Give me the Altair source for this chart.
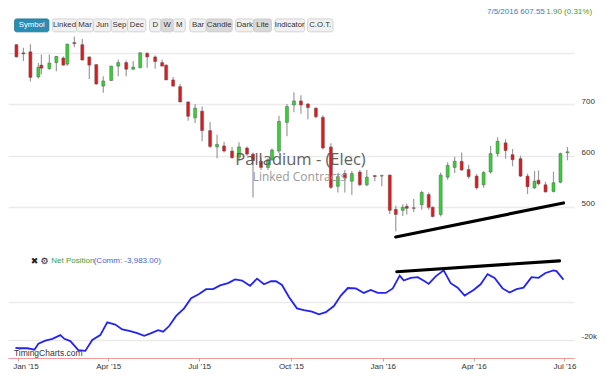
import altair as alt
import numpy as np
import pandas as pd

# ---------------- data ----------------
BASE_DATE = "2015-01-01"   # day offsets below are counted from this date

candle_day = [-2, 5, 12, 20, 23, 31, 38, 45, 49, 56,
              64, 71, 78, 85, 93, 100, 108, 115, 122, 129,
              137, 144, 148, 155, 162, 170, 177, 184, 192, 199,
              206, 214, 221, 229, 235, 243, 250, 254, 261, 269,
              276, 283, 290, 298, 305, 313, 320, 327, 334, 342,
              349, 357, 364, 372, 378, 385, 389, 396, 404, 411,
              415, 423, 430, 437, 444, 451, 459, 466, 473, 480,
              488, 495, 503, 510, 517, 521, 528, 536, 543, 550]
candle_open = [817, 801, 803, 754, 777, 770, 782, 791, 779, 821,
               817, 793, 778, 736, 747, 775, 782, 769, 772, 800,
               793, 782, 777, 748, 735, 705, 674, 687, 649, 617,
               619, 609, 597, 615, 603, 589, 577, 592, 609, 665,
               699, 707, 701, 693, 675, 617, 540, 565, 550, 568,
               543, 561, 560, 562, 495, 493, 501, 498, 504, 524,
               499, 485, 558, 577, 589, 573, 560, 543, 568, 604,
               625, 602, 594, 560, 537, 552, 543, 530, 548, 605.65]
candle_high = [818, 811, 818, 781, 798, 798, 795, 794, 819, 833,
               828, 794, 779, 755, 776, 788, 786, 785, 802, 802,
               796, 788, 778, 754, 740, 706, 701, 696, 666, 641,
               627, 617, 626, 618, 606, 596, 595, 614, 678, 701,
               724, 718, 703, 694, 679, 624, 565, 572, 570, 572,
               572, 562, 563, 563, 502, 505, 506, 515, 531, 528,
               501, 567, 587, 598, 606, 582, 564, 570, 619, 636,
               632, 613, 600, 565, 570, 571, 549, 569, 606, 617]
candle_low = [792, 785, 745, 751, 759, 768, 765, 776, 776, 812,
              786, 750, 739, 723, 746, 755, 755, 768, 771, 772,
              770, 775, 748, 735, 704, 668, 664, 628, 615, 595,
              606, 594, 589, 600, 518, 572, 572, 590, 605, 638,
              685, 682, 671, 673, 612, 535, 528, 528, 523, 540,
              540, 550, 540, 486, 452, 482, 485, 490, 494, 494,
              479, 481, 553, 566, 570, 555, 534, 537, 565, 598,
              594, 579, 558, 525, 535, 542, 528, 528, 546, 591]
candle_close = [793, 799, 753, 773, 771, 781, 794, 777, 818, 819,
                787, 777, 740, 746, 775, 782, 769, 773, 801, 793,
                784, 775, 748, 736, 705, 677, 693, 649, 618, 622,
                609, 596, 617, 603, 590, 577, 592, 611, 667, 696,
                707, 699, 694, 676, 615, 538, 559, 556, 565, 543,
                558, 559, 561, 493, 485, 499, 497, 497, 528, 499,
                481, 562, 581, 589, 572, 559, 537, 567, 604, 628,
                610, 592, 560, 539, 550, 545, 529, 547, 604, 607.55]

net_day = [-3, 1, 9, 16, 20, 27, 34, 42, 46, 52,
           60, 67, 74, 82, 89, 97, 104, 111, 119, 126,
           133, 140, 145, 151, 158, 166, 173, 181, 188, 195,
           202, 210, 217, 224, 232, 239, 246, 253, 258, 264,
           271, 279, 286, 294, 301, 308, 316, 323, 330, 338,
           346, 353, 360, 368, 375, 382, 386, 393, 400, 407,
           411, 418, 426, 433, 440, 447, 456, 463, 470, 477,
           485, 492, 499, 506, 514, 521, 528, 536, 539, 546]
net_position_k = [-22.1, -22.2, -22.2, -22.6, -21.0, -20.2, -19.7, -18.7, -19.7, -20.3,
                  -22.7, -22.9, -20.0, -18.7, -15.3, -15.9, -17.2, -17.6, -18.2, -18.9,
                  -18.2, -17.4, -17.8, -16.3, -13.6, -11.6, -8.9, -7.8, -6.5, -6.5,
                  -5.5, -4.9, -3.9, -4.2, -5.6, -3.7, -5.2, -4.4, -4.4, -5.4,
                  -8.6, -11.6, -12.1, -12.5, -13.2, -12.6, -11.0, -8.2, -6.2, -6.3,
                  -7.5, -6.7, -7.5, -7.5, -6.3, -2.9, -4.2, -3.5, -3.3, -4.4,
                  -5.1, -3.1, -1.5, -4.9, -6.1, -8.2, -6.7, -5.2, -2.5, -3.5,
                  -6.3, -7.4, -6.5, -6.1, -3.3, -3.5, -2.2, -1.5, -1.7, -3.983]

price_trend_day = [378, 546]
price_trend = [441, 507.5]
net_trend_day = [379, 542]
net_trend_k = [-1.87, 1.03]

price_axis_values = [500, 600, 700, 800]
net_axis_values = [-20, -10]
x_axis_months = [(2015, 1), (2015, 4), (2015, 7), (2015, 10), (2016, 1), (2016, 4), (2016, 7)]

title_text = "Palladium - (Elec)"
subtitle_text = "Linked Contracts"
legend_name = "Net Position"
legend_value = "(Comm: -3,983.00)"
quote_main = "7/5/2016 607.55"
quote_change = "1.90 (0.31%)"
brand_text = "TimingCharts.com"
buttons = ["Symbol", "Linked", "Mar", "Jun", "Sep", "Dec", "D", "W", "M",
           "Bar", "Candle", "Dark", "Lite", "Indicator", "C.O.T."]
selected_buttons = ["W", "Candle", "Lite"]

# ---------------- layout (pixels of the reference -> chart pixels) ----------------
def X(ref):
    return (ref - 6) * 0.985


def Y(ref):
    return (ref - 2) * 0.965


button_edges = [(12.7, 47.5), (51, 75.7), (75.7, 92.7), (92.7, 110.8), (110.8, 127.4),
                (127.4, 146), (149.8, 161.4), (161.4, 173.7), (173.7, 186),
                (190.7, 207.3), (207.3, 233.6), (237, 255.6), (255.6, 273.4),
                (277, 307), (310, 336)]

FONT = "Liberation Sans"
GREEN = "#2fd62f"
RED = "#e3171c"
W, H = 566, 350

base = pd.Timestamp(BASE_DATE)
candles = pd.DataFrame({
    "date": base + pd.to_timedelta(candle_day, unit="D"),
    "open": candle_open, "high": candle_high, "low": candle_low, "close": candle_close,
})
candles["dir"] = np.where(candles["close"] >= candles["open"], "up", "down")

net = pd.DataFrame({"date": base + pd.to_timedelta(net_day, unit="D"), "net": net_position_k})
ptrend = pd.DataFrame({"date": base + pd.to_timedelta(price_trend_day, unit="D"), "v": price_trend})
ntrend = pd.DataFrame({"date": base + pd.to_timedelta(net_trend_day, unit="D"), "v": net_trend_k})
one = pd.DataFrame({"k": [0]})

x_scale = alt.Scale(domain=[alt.DateTime(year=2014, month=12, date=26, hours=13, minutes=40),
                            alt.DateTime(year=2016, month=7, date=5, hours=13, minutes=12)],
                    nice=False)
price_scale = alt.Scale(domain=[450, 800], range=[Y(49 + 350 * 0.53), Y(49)], zero=False, nice=False)
net_scale = alt.Scale(domain=[-20, 0], range=[Y(346), Y(268)], zero=False, nice=False)

x_axis = alt.Axis(values=[alt.DateTime(year=y, month=m, date=1) for y, m in x_axis_months],
                  format="%b '%y", title=None, grid=False, labelAngle=0,
                  labelFont=FONT, labelFontSize=8, labelColor="#333",
                  domainColor="#f29a9a", domainWidth=1, tickColor="#aaa", tickSize=3,
                  labelPadding=1,
                  labelOffset={"condition": {"test": "datum.index == 0", "value": 7}, "value": 0})
price_axis = alt.Axis(orient="right", values=price_axis_values, title=None,
                      labelExpr="datum.value == 800 ? '' : datum.label",
                      grid=True, gridColor="#ebebeb", gridWidth=1.5, domain=False, ticks=False,
                      labelPadding=7, labelFont=FONT, labelFontSize=8, labelColor="#333",
                      labelOffset=-3)
net_axis = alt.Axis(orient="right", values=net_axis_values, title=None,
                    labelExpr="datum.value == -20 ? '-20k' : ''",
                    grid=True, gridColor="#ebebeb", gridWidth=1.5, domain=False, ticks=False,
                    labelPadding=7, labelFont=FONT, labelFontSize=8, labelColor="#333",
                    labelOffset=-3)

X_ENC = alt.X("date:T", scale=x_scale, axis=x_axis)

wick = alt.Chart(candles).mark_rule(color="#9b9b9b", strokeWidth=1.2).encode(
    x=X_ENC,
    y=alt.Y("low:Q", scale=price_scale, axis=price_axis),
    y2="high:Q",
)
body = alt.Chart(candles).mark_bar(size=3.0, stroke="#5a5a5a", strokeWidth=0.5).encode(
    x=X_ENC,
    y=alt.Y("open:Q", scale=price_scale, axis=None),
    y2="close:Q",
    color=alt.Color("dir:N", scale=alt.Scale(domain=["up", "down"], range=[GREEN, RED]), legend=None),
)
price_line = alt.Chart(ptrend).mark_line(color="black", strokeWidth=3.2, strokeCap="round").encode(
    x=X_ENC,
    y=alt.Y("v:Q", scale=price_scale, axis=None),
)
net_line = alt.Chart(net).mark_line(color="#2424f0", strokeWidth=1.8).encode(
    x=X_ENC,
    y=alt.Y("net:Q", scale=net_scale, axis=net_axis),
)
net_trend_line = alt.Chart(ntrend).mark_line(color="black", strokeWidth=3.2, strokeCap="round").encode(
    x=X_ENC,
    y=alt.Y("v:Q", scale=net_scale, axis=None),
)


def label(text, x, y, size, color, align="left", font=FONT, weight="normal", opacity=1.0):
    return alt.Chart(one).mark_text(text=text, align=align, baseline="middle", font=font,
                                    fontSize=size, color=color, fontWeight=weight,
                                    opacity=opacity).encode(x=alt.value(x), y=alt.value(y))


layers = [wick, body, price_line, net_line, net_trend_line]

# title watermark
layers.append(label(title_text, X(303), Y(159), 16.5, "#555", align="center", font="Open Sans", opacity=0.92))
layers.append(label(subtitle_text, X(302), Y(177), 12, "#999", align="center", font="Open Sans"))

# toolbar
for name, (x0, x1) in zip(buttons, button_edges):
    if name == "Symbol":
        fill, stroke, tcol = "#2c8db3", "#1f6f8f", "white"
    elif name in selected_buttons:
        fill, stroke, tcol = "#d9d9d9", "#c4c4c4", "#333"
    else:
        fill, stroke, tcol = "#f0f0f0", "#cacaca", "#333"
    layers.append(alt.Chart(one).mark_rect(fill=fill, stroke=stroke, strokeWidth=0.8, cornerRadius=2).encode(
        x=alt.value(X(x0)), x2=alt.value(X(x1)), y=alt.value(Y(13.3)), y2=alt.value(Y(26.7))))
    layers.append(label(name, X((x0 + x1) / 2), Y(20), 7.8, tcol, align="center"))

# quote at top right
layers.append(label(quote_main, X(551), Y(6.5), 8, "#3a7abf", align="right"))
layers.append(label(quote_change, X(599), Y(6.5), 8, "#3e9e3e", align="right"))

# net position legend
layers.append(label("\u2716", X(33), Y(264), 9, "#222", align="center", font="DejaVu Sans"))
layers.append(label("\u2699", X(43), Y(264), 9, "#222", align="center", font="DejaVu Sans"))
layers.append(label(legend_name, X(50), Y(264), 8, "#3e9e3e"))
layers.append(label(legend_value, X(93), Y(264), 8, "#4a5fd0"))

# brand
layers.append(label(brand_text, X(12), Y(359), 8.5, "#333"))

chart = (
    alt.layer(*layers)
    .resolve_scale(y="independent")
    .properties(width=W, height=H, padding=0, background="white")
    .configure_view(stroke=None)
)

chart.save("out.html", embed_options={"renderer": "svg", "actions": False})
